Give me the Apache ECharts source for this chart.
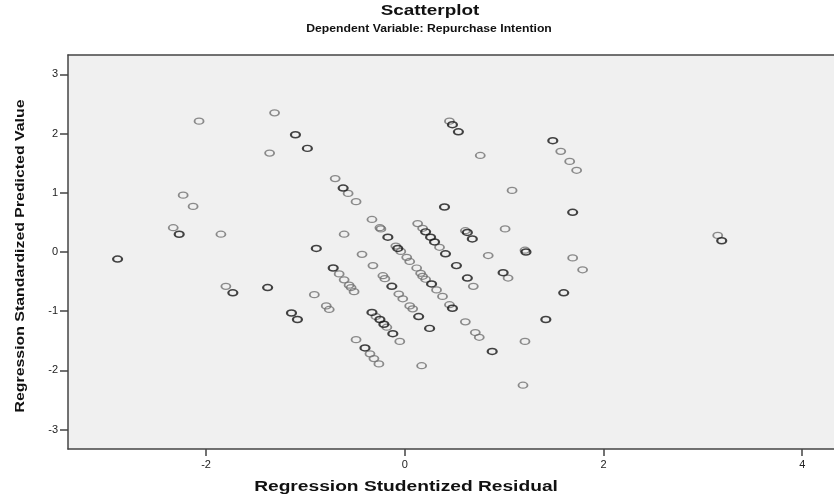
<!DOCTYPE html>
<html>
<head>
<meta charset="utf-8">
<script src="https://cdn.jsdelivr.net/npm/echarts@6/dist/echarts.min.js"></script>
<style>
html,body{margin:0;padding:0;background:#fff;}
#c{width:834px;height:497px;}
</style>
</head>
<body>
<div id="c"></div>
<script>
// Regression Studentized Residual (x), Regression Standardized Predicted Value (y),
// cases: number of overlapping cases at that spot (darker rings)
const residual = [-2.89,-2.33,-2.27,-2.23,-2.13,-2.07,-1.85,-1.80,-1.73,-1.38,-1.36,-1.31,-1.14,-1.10,-1.08,-0.98,-0.91,-0.89,-0.79,-0.76,
  -0.72,-0.70,-0.66,-0.62,-0.61,-0.61,-0.57,-0.56,-0.54,-0.51,-0.49,-0.49,-0.43,-0.40,-0.35,-0.33,-0.33,-0.32,-0.31,-0.29,
  -0.26,-0.25,-0.24,-0.25,-0.22,-0.21,-0.20,-0.18,-0.17,-0.13,-0.12,-0.09,-0.07,-0.06,-0.04,-0.05,-0.02,0.02,0.05,0.05,
  0.08,0.12,0.13,0.14,0.16,0.17,0.18,0.18,0.21,0.21,0.25,0.26,0.27,0.30,0.32,0.35,0.38,0.40,0.41,0.45,
  0.45,0.48,0.48,0.52,0.54,0.61,0.61,0.63,0.63,0.68,0.69,0.71,0.75,0.76,0.84,0.88,0.99,1.01,1.04,1.08,
  1.19,1.21,1.22,1.21,1.42,1.49,1.57,1.60,1.66,1.69,1.69,1.73,1.79,3.15,3.19];
const predicted = [-0.12,0.41,0.30,0.96,0.77,2.21,0.30,-0.58,-0.69,-0.60,1.67,2.35,-1.03,1.98,-1.14,1.75,-0.72,0.06,-0.91,-0.97,
  -0.27,1.24,-0.37,1.08,-0.47,0.30,0.99,-0.56,-0.60,-0.67,0.85,-1.48,-0.04,-1.62,-1.72,0.55,-1.02,-0.23,-1.80,-1.09,
  -1.89,0.41,0.39,-1.14,-0.40,-1.22,-0.45,-1.27,0.25,-0.58,-1.38,0.10,0.06,-0.71,0.01,-1.51,-0.79,-0.09,-0.16,-0.91,
  -0.96,-0.27,0.48,-1.09,-0.36,-1.92,0.40,-0.41,0.34,-0.46,-1.29,0.25,-0.54,0.17,-0.64,0.08,-0.75,0.76,-0.03,2.21,
  -0.89,2.15,-0.95,-0.23,2.03,0.36,-1.18,0.33,-0.44,0.22,-0.58,-1.36,-1.44,1.63,-0.06,-1.68,-0.35,0.39,-0.44,1.04,
  -2.25,0.03,0.00,-1.51,-1.14,1.88,1.70,-0.69,1.53,0.67,-0.10,1.38,-0.30,0.28,0.19];
const cases = [2,1,2,1,1,1,1,1,2,2,1,1,2,2,2,2,1,3,1,1,
  2,1,1,2,1,1,1,1,1,1,1,1,1,2,1,1,2,1,1,1,
  1,1,1,2,1,2,1,1,2,2,2,1,2,1,1,1,1,1,1,1,
  1,1,1,2,1,1,1,1,2,1,2,2,2,2,1,1,1,2,2,1,
  1,2,2,2,2,1,1,2,2,2,1,1,1,1,1,2,2,1,1,1,
  1,1,2,1,2,2,1,2,1,2,1,1,1,1,2];
const xTicks = [-2, 0, 2, 4];
const yTicks = [-3, -2, -1, 0, 1, 2, 3];
const titleText = 'Scatterplot';
const subtitleText = 'Dependent Variable: Repurchase Intention';
const xTitle = 'Regression Studentized Residual';
const yTitle = 'Regression Standardized Predicted Value';

const single = [], overlap = [];
residual.forEach((x, i) => {
  (cases[i] > 1 ? overlap : single).push([x, predicted[i]]);
});

const FONT = '"Liberation Sans", Arial, sans-serif';
const chart = echarts.init(document.getElementById('c'), null, {renderer: 'canvas'});
const ring = (col, w) => ({
  type: 'scatter', symbol: 'circle', symbolSize: [9, 6],
  itemStyle: {color: 'rgba(0,0,0,0)', borderColor: col, borderWidth: w},
  emphasis: {disabled: true}, silent: true, animation: false
});
const frame = {color: '#444', width: 1.5};
chart.setOption({
  animation: false,
  backgroundColor: '#ffffff',
  grid: {left: 68, top: 55, right: 0, bottom: 48, show: true, backgroundColor: '#f0f0f0',
         borderWidth: 0, containLabel: false},
  xAxis: [{
    type: 'value', min: -3.389, max: 4.32,
    splitLine: {show: false},
    axisLine: {show: true, onZero: false, lineStyle: frame},
    axisTick: {show: true, length: 7, customValues: xTicks, lineStyle: frame},
    axisLabel: {customValues: xTicks, color: '#222', fontSize: 11, fontFamily: FONT, margin: 10}
  }, {
    type: 'value', position: 'top', min: -3.389, max: 4.32,
    splitLine: {show: false},
    axisLine: {show: true, onZero: false, lineStyle: frame},
    axisTick: {show: false}, axisLabel: {show: false}
  }],
  yAxis: {
    type: 'value', min: -3.327, max: 3.327,
    splitLine: {show: false},
    axisLine: {show: true, onZero: false, lineStyle: frame},
    axisTick: {show: true, length: 8, customValues: yTicks, lineStyle: frame},
    axisLabel: {customValues: yTicks, color: '#222', fontSize: 11, fontFamily: FONT, margin: 10}
  },
  graphic: [
    {type: 'text', x: 430, y: 11, scaleX: 1.26, silent: true,
     style: {text: titleText, font: 'bold 15px ' + FONT, fill: '#111', textAlign: 'center', textVerticalAlign: 'middle'}},
    {type: 'text', x: 429, y: 29, scaleX: 1.11, silent: true,
     style: {text: subtitleText, font: 'bold 11px ' + FONT, fill: '#111', textAlign: 'center', textVerticalAlign: 'middle'}},
    {type: 'text', x: 406, y: 487, scaleX: 1.37, silent: true,
     style: {text: xTitle, font: 'bold 14px ' + FONT, fill: '#111', textAlign: 'center', textVerticalAlign: 'middle'}},
    {type: 'text', x: 20, y: 256, rotation: Math.PI / 2, scaleX: 1.22, silent: true,
     style: {text: yTitle, font: 'bold 13px ' + FONT, fill: '#111', textAlign: 'center', textVerticalAlign: 'middle'}}
  ],
  series: [
    Object.assign(ring('#707070', 1.5), {data: single}),
    Object.assign(ring('#151515', 1.8), {data: overlap})
  ]
});
</script>
</body>
</html>
